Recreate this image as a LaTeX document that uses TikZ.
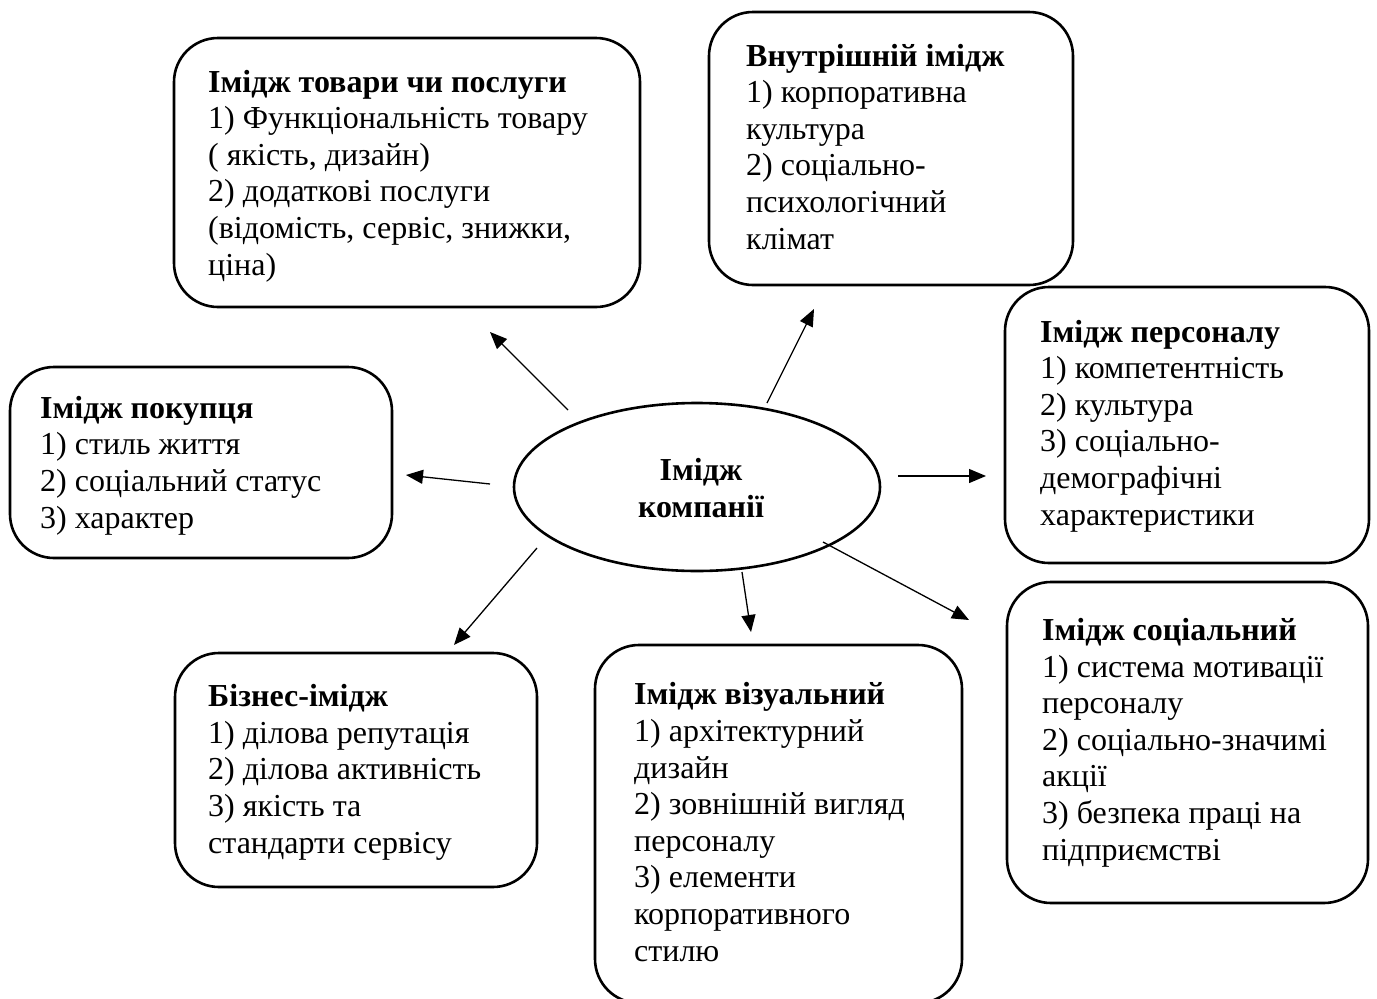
\documentclass[tikz,border=0pt]{standalone}
\usepackage{fontspec}
\setmainfont{Liberation Serif}
\usetikzlibrary{arrows.meta,shapes.geometric}
\tikzset{
  box/.style={draw, line width=2.6pt, rounded corners=44pt, inner sep=0pt},
  txt/.style={align=left, inner sep=0pt, anchor=base west, font=\fontsize{32}{36.6}\selectfont},
  ctxt/.style={align=center, inner sep=0pt, anchor=base, font=\fontsize{32}{36.6}\selectfont\bfseries},
  arr/.style={line width=1.3pt, -{Triangle[length=17pt,width=14pt]}},
}
\begin{document}
\begin{tikzpicture}[x=1pt,y=-1pt]
\useasboundingbox (0,0) rectangle (1377,999);
\clip (0,0) rectangle (1377,999);
% boxes
\node[box, minimum width=466pt, minimum height=269pt] (bA) at (407,172.5) {};
\node[box, minimum width=364pt, minimum height=273pt] (bB) at (891,148.5) {};
\node[box, minimum width=364pt, minimum height=276pt] (bC) at (1187,425) {};
\node[box, minimum width=382pt, minimum height=191pt] (bD) at (201,462.5) {};
\node[box, minimum width=362pt, minimum height=234pt] (bE) at (356,770) {};
\node[box, minimum width=367pt, minimum height=358pt] (bF) at (778.5,824) {};
\node[box, minimum width=361pt, minimum height=321pt] (bG) at (1187.5,742.5) {};
% centre
\node[draw, ellipse, line width=2.6pt, minimum width=366pt, minimum height=168pt, inner sep=0pt] (core) at (697,487) {};
% texts (anchor = baseline of the last line)
\node[ctxt] (coreT) at (701,517) {Імідж\\компанії};
\node[txt] (tA) at (208,275) {\textbf{Імідж товари чи послуги}\\1) Функціональність товару\\( якість, дизайн)\\2) додаткові послуги\\(відомість, сервіс, знижки,\\ціна)};
\node[txt] (tB) at (746,249) {\textbf{Внутрішній імідж}\\1) корпоративна\\культура\\2) соціально-\\психологічний\\клімат};
\node[txt] (tC) at (1040,525) {\textbf{Імідж персоналу}\\1) компетентність\\2) культура\\3) соціально-\\демографічні\\характеристики};
\node[txt] (tD) at (40,528) {\textbf{Імідж покупця}\\1) стиль життя\\2) соціальний статус\\3) характер};
\node[txt] (tE) at (208,853) {\textbf{Бізнес-імідж}\\1) ділова репутація\\2) ділова активність\\3) якість та\\стандарти сервісу};
\node[txt] (tF) at (634,961) {\textbf{Імідж візуальний}\\1) архітектурний\\дизайн\\2) зовнішній вигляд\\персоналу\\3) елементи\\корпоративного\\стилю};
\node[txt] (tG) at (1042,860) {\textbf{Імідж соціальний}\\1) система мотивації\\персоналу\\2) соціально-значимі\\акції\\3) безпека праці на\\підприємстві};
% arrow ends
\coordinate (s1) at (568,410); \coordinate (e1) at (490,332);
\coordinate (s2) at (767,403); \coordinate (e2) at (814,309);
\coordinate (s3) at (490,484); \coordinate (e3) at (406,475);
\coordinate (s4) at (898,476); \coordinate (e4) at (986,476);
\coordinate (s5) at (537,548); \coordinate (e5) at (454,645);
\coordinate (s6) at (742,572); \coordinate (e6) at (751,632);
\coordinate (s7) at (823,542); \coordinate (e7) at (969,620);
\draw[arr] (s1) -- (e1);
\draw[arr] (s2) -- (e2);
\draw[arr] (s3) -- (e3);
\draw[arr] (s4) -- (e4);
\draw[arr] (s5) -- (e5);
\draw[arr] (s6) -- (e6);
\draw[arr] (s7) -- (e7);
\end{tikzpicture}
\end{document}
